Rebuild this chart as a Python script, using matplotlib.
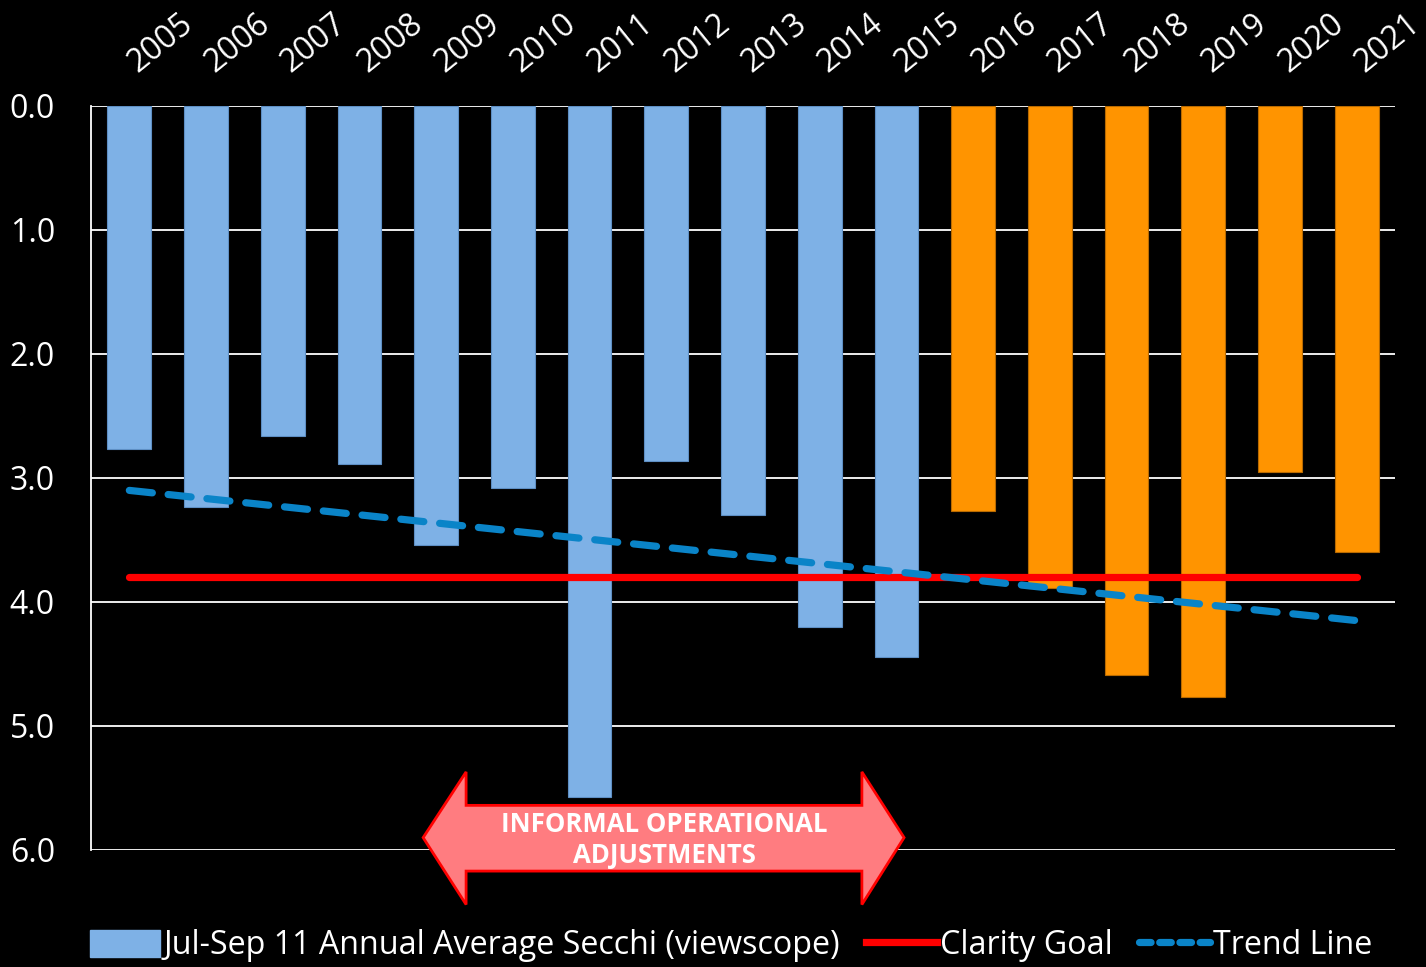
import matplotlib
matplotlib.use("Agg")
import matplotlib.pyplot as plt
from matplotlib.patches import Polygon, Patch
from matplotlib.lines import Line2D
from matplotlib.transforms import ScaledTranslation
import numpy as np

years = ["2005", "2006", "2007", "2008", "2009", "2010", "2011", "2012", "2013",
         "2014", "2015", "2016", "2017", "2018", "2019", "2020", "2021"]
secchi = [2.77, 3.23, 2.66, 2.89, 3.54, 3.08, 5.57, 2.86, 3.30,
          4.20, 4.44, 3.27, 3.89, 4.59, 4.77, 2.95, 3.60]
clarity_goal = [3.80] * len(years)
trend_start, trend_end = 3.10, 4.15
n_blue = 11  # 2005-2015 blue, 2016-2021 orange

plt.rcParams['font.family'] = ['Open Sans', 'DejaVu Sans']

fig = plt.figure(figsize=(14.26, 9.67), dpi=100, facecolor='black')
ax = fig.add_axes([91/1426, 1-850/967, (1395-91)/1426, (850-106)/967])
ax.set_facecolor('black')

x = np.arange(len(years))
colors = ['#7EB1E6'] * n_blue + ['#FF9400'] * (len(years) - n_blue)
edges = ['#5E8FC4'] * n_blue + ['#B86A00'] * (len(years) - n_blue)
ax.bar(x, secchi, width=0.57, color=colors, edgecolor=edges, linewidth=0.8, zorder=2)

ax.plot(x, clarity_goal, color='#FF0000', lw=5.2, solid_capstyle='round', zorder=3)
trend = np.linspace(trend_start, trend_end, len(years))
ax.plot(x, trend, color='#0A84C8', lw=5.2, dashes=(3.2, 2.2), dash_capstyle='round', zorder=4)

ax.set_xlim(-0.5, len(years) - 0.5)
ax.set_ylim(6.0, 0.0)
ax.set_yticks(np.arange(0, 7, 1.0))
ax.set_yticklabels([f"{v:.1f}" for v in np.arange(0, 7, 1.0)], color='white', fontsize=23)
ax.tick_params(axis='y', length=0, pad=26)
for lbl in ax.get_yticklabels():
    lbl.set_horizontalalignment('right')

ax.xaxis.tick_top()
ax.set_xticks(x)
ax.set_xticklabels(years, color='white', fontsize=23, rotation=39,
                   ha='left', va='bottom', rotation_mode='anchor')
ax.tick_params(axis='x', length=0, pad=19)
shift = ScaledTranslation(13/100, 0, fig.dpi_scale_trans)
for lbl in ax.get_xticklabels():
    lbl.set_transform(lbl.get_transform() + shift)

ax.grid(axis='y', color='white', lw=1.3, zorder=1)
ax.set_axisbelow(True)
for s in ['top', 'right', 'bottom']:
    ax.spines[s].set_visible(False)
ax.spines['left'].set_color('white')
ax.spines['left'].set_linewidth(1.3)

# double-headed arrow annotation
arrow_pts = [(3.83, 5.90), (4.39, 5.37), (4.39, 5.64), (9.55, 5.64), (9.55, 5.37),
             (10.10, 5.90), (9.55, 6.44), (9.55, 6.17), (4.39, 6.17), (4.39, 6.44)]
ax.add_patch(Polygon(arrow_pts, closed=True, facecolor='#FF7C80', edgecolor='#FF0000',
                     lw=2, clip_on=False, zorder=5))
ax.text(6.97, 5.92, "INFORMAL OPERATIONAL\nADJUSTMENTS", color='white', fontsize=18.5,
        fontweight='bold', ha='center', va='center', linespacing=1.22, zorder=6)

handles = [Patch(facecolor='#7EB1E6', edgecolor='#7EB1E6'),
           Line2D([0], [0], color='#FF0000', lw=5.2),
           Line2D([0], [0], color='#0A84C8', lw=5.2, dashes=(1.6, 1.2), dash_capstyle='round')]
labels = ["Jul-Sep 11 Annual Average Secchi (viewscope)", "Clarity Goal", "Trend Line"]
leg = fig.legend(handles, labels, loc='center', bbox_to_anchor=(0.5125, 1-946/967), ncol=3,
                 frameon=False, fontsize=23.2, labelcolor='white', handlelength=2.2,
                 handleheight=0.9, handletextpad=0.1, columnspacing=0.8, borderpad=0)

fig.savefig("out.png", dpi=100, facecolor='black')
